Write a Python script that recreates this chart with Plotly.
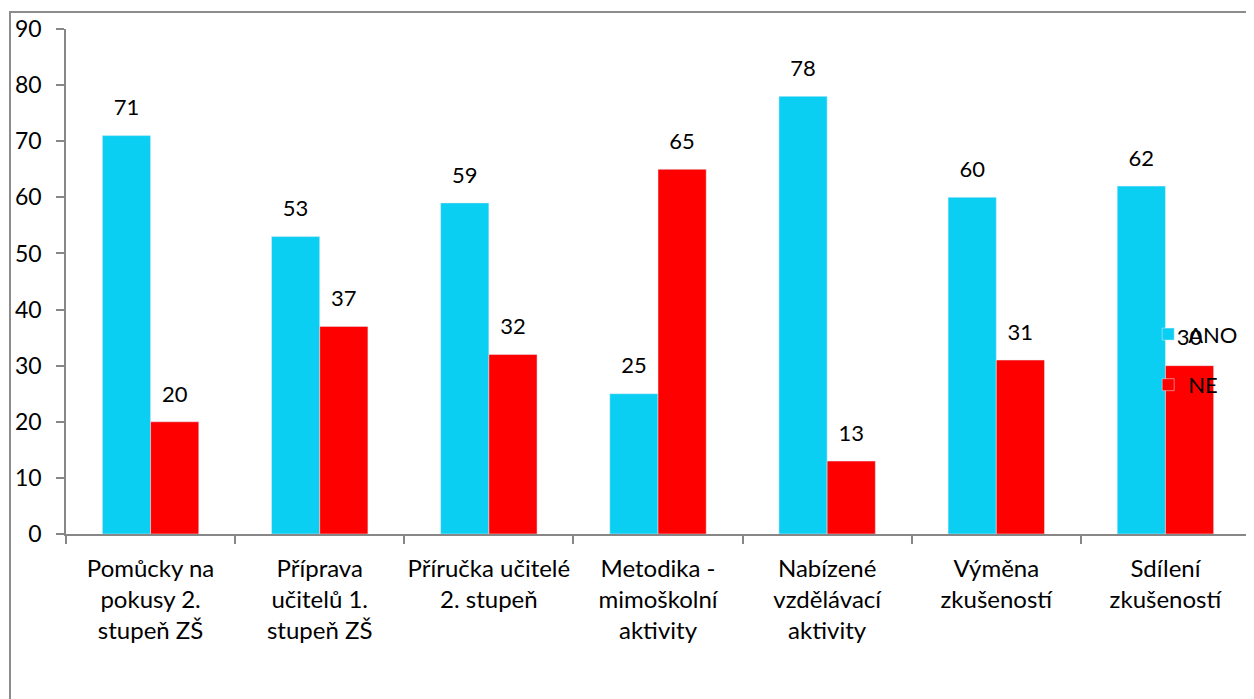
import plotly.graph_objects as go

categories = [
    "Pomůcky na<br>pokusy 2.<br>stupeň ZŠ",
    "Příprava<br>učitelů 1.<br>stupeň ZŠ",
    "Příručka učitelé<br>2. stupeň",
    "Metodika -<br>mimoškolní<br>aktivity",
    "Nabízené<br>vzdělávací<br>aktivity",
    "Výměna<br>zkušeností",
    "Sdílení<br>zkušeností",
]
ano = [71, 53, 59, 25, 78, 60, 62]
ne = [20, 37, 32, 65, 13, 31, 30]

CYAN = "#0ACEF2"
RED = "#FF0000"
FONT = "Lato"
GAP = 0.43

fig = go.Figure()
fig.add_trace(go.Bar(name="ANO", x=categories, y=ano, marker_color=CYAN,
                     offsetgroup="a", legendgroup="a"))
fig.add_trace(go.Bar(name="NE", x=categories, y=ne, marker_color=RED,
                     offsetgroup="b", legendgroup="b"))
for vals, grp in ((ano, "a"), (ne, "b")):
    fig.add_trace(go.Scatter(
        x=categories, y=vals, mode="markers+text", text=[str(v) for v in vals],
        textposition="top center", textfont=dict(family=FONT, size=22, color="black"),
        marker=dict(size=22, opacity=0), offsetgroup=grp, showlegend=False,
        hoverinfo="skip", cliponaxis=False))

fig.update_layout(
    width=1254, height=699,
    margin=dict(l=58, r=12, t=21, b=173, autoexpand=False),
    barmode="group", bargap=GAP, bargroupgap=0,
    scattermode="group", scattergap=GAP,
    paper_bgcolor="white", plot_bgcolor="white",
    font=dict(family=FONT, size=22, color="black"),
    legend=dict(x=0.914, y=0.345, xanchor="left", yanchor="middle",
                bgcolor="rgba(0,0,0,0)", traceorder="grouped", tracegroupgap=19,
                font=dict(family=FONT, size=22)),
    shapes=[dict(type="rect", xref="paper", yref="paper",
                 x0=-0.0473, x1=1.01, y0=-0.40, y1=1.0337,
                 line=dict(color="#8C8C8C", width=2), layer="below")],
)
fig.update_yaxes(range=[0, 90], dtick=10, showgrid=False, zeroline=False,
                 showline=True, linecolor="#878787", linewidth=1.5,
                 ticks="outside", ticklen=8, tickcolor="#878787", tickwidth=1.5,
                 ticklabelstandoff=10, tickfont=dict(family=FONT, size=23),
                 automargin=False)
fig.update_xaxes(showgrid=False, showline=True, linecolor="#878787", linewidth=1.5,
                 ticks="outside", ticklen=8, tickcolor="#878787", tickwidth=1.5,
                 tickson="boundaries", tickangle=0, ticklabelstandoff=12,
                 tickfont=dict(family=FONT, size=24), automargin=False)

fig.write_html("out.html")
